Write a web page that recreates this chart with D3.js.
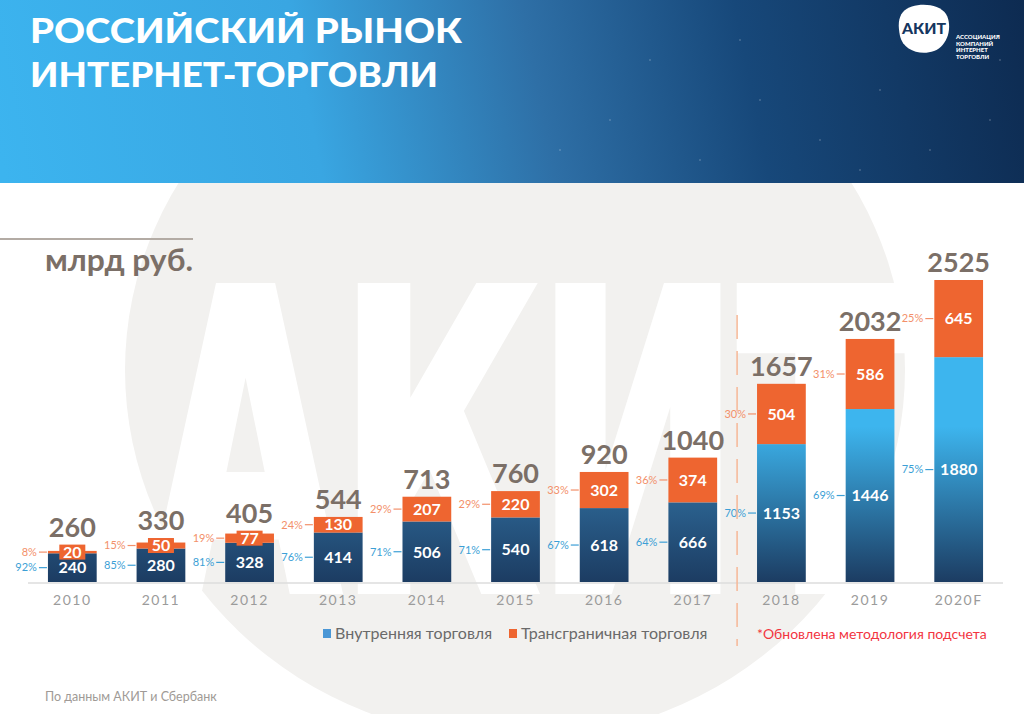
<!DOCTYPE html>
<html>
<head>
<meta charset="utf-8">
<script src="https://cdn.jsdelivr.net/npm/d3@7"></script>
<style>
  html, body { margin: 0; padding: 0; background: #fff; }
  svg { display: block; }
</style>
</head>
<body>
<div id="container"></div>
<script>
// chart data
var years = ["2010", "2011", "2012", "2013", "2014", "2015", "2016", "2017", "2018", "2019", "2020F"];
var domestic = [240, 280, 328, 414, 506, 540, 618, 666, 1153, 1446, 1880];
var crossBorder = [20, 50, 77, 130, 207, 220, 302, 374, 504, 586, 645];
var totals = [260, 330, 405, 544, 713, 760, 920, 1040, 1657, 2032, 2525];
var domesticPct = ["92%", "85%", "81%", "76%", "71%", "71%", "67%", "64%", "70%", "69%", "75%"];
var crossPct = ["8%", "15%", "19%", "24%", "29%", "29%", "33%", "36%", "30%", "31%", "25%"];
var newMethodFrom = "2018";
var legendLabels = ["Внутренняя торговля", "Трансграничная торговля"];

var width = 1024, height = 714;
var orange = "#ee6530";
var taupe = "#7b6f67";
var font = "Lato, 'Open Sans', sans-serif";

var svg = d3.select("#container").append("svg")
  .attr("width", width).attr("height", height);
var defs = svg.append("defs");

// header gradient
var hg = defs.append("linearGradient").attr("id", "hdr")
  .attr("gradientUnits", "userSpaceOnUse")
  .attr("x1", 0).attr("y1", 160).attr("x2", 1024).attr("y2", -40);
hg.append("stop").attr("offset", 0).attr("stop-color", "#3cb4ef");
hg.append("stop").attr("offset", 0.3).attr("stop-color", "#39a6e2");
hg.append("stop").attr("offset", 0.52).attr("stop-color", "#2e6fa6");
hg.append("stop").attr("offset", 0.72).attr("stop-color", "#17487a");
hg.append("stop").attr("offset", 1).attr("stop-color", "#0d2a50");

// watermark circle + letters
svg.append("ellipse").attr("cx", 515).attr("cy", 370).attr("rx", 390).attr("ry", 370)
  .attr("fill", "#f2f1ef");
svg.append("text").attr("x", 152).attr("y", 588)
  .attr("font-family", "'DejaVu Sans', sans-serif").attr("font-weight", 700).attr("font-size", 410)
  .attr("textLength", 752).attr("lengthAdjust", "spacingAndGlyphs")
  .attr("fill", "#fff").attr("stroke", "#fff").attr("stroke-width", 12)
  .attr("stroke-linejoin", "miter").text("АКИТ");

// header
svg.append("rect").attr("width", width).attr("height", 183).attr("fill", "url(#hdr)");
var starData = [[560, 150], [610, 120], [700, 160], [760, 100], [820, 140], [880, 90], [930, 150], [990, 120], [650, 60], [740, 40], [1000, 60], [860, 170]];
svg.selectAll("circle.star").data(starData).enter().append("circle")
  .attr("class", "star").attr("cx", d => d[0]).attr("cy", d => d[1]).attr("r", 0.8)
  .attr("fill", "#fff").attr("opacity", 0.35);

svg.append("text").attr("x", 30).attr("y", 43)
  .attr("font-family", font).attr("font-weight", 900).attr("font-size", 35)
  .attr("textLength", 432).attr("lengthAdjust", "spacingAndGlyphs")
  .attr("fill", "#fff").text("РОССИЙСКИЙ РЫНОК");
svg.append("text").attr("x", 30).attr("y", 87)
  .attr("font-family", font).attr("font-weight", 900).attr("font-size", 35)
  .attr("textLength", 408).attr("lengthAdjust", "spacingAndGlyphs")
  .attr("fill", "#fff").text("ИНТЕРНЕТ-ТОРГОВЛИ");

// logo
svg.append("path")
  .attr("d", "M903,12 C912,2 938,2 946,14 C953,26 948,46 934,51 C920,56 903,50 900,36 C898,26 898,18 903,12 Z")
  .attr("fill", "#fff");
svg.append("text").attr("x", 924).attr("y", 34).attr("text-anchor", "middle")
  .attr("font-family", font).attr("font-weight", 900).attr("font-size", 15)
  .attr("textLength", 44).attr("lengthAdjust", "spacingAndGlyphs")
  .attr("fill", "#15365f").text("АКИТ");
["АССОЦИАЦИЯ", "КОМПАНИЙ", "ИНТЕРНЕТ", "ТОРГОВЛИ"].forEach(function (t, i) {
  svg.append("text").attr("x", 956).attr("y", 39 + i * 6.5)
    .attr("font-family", font).attr("font-weight", 900).attr("font-size", 6)
    .attr("fill", "#fff").text(t);
});

// units label
svg.append("line").attr("x1", 0).attr("x2", 193).attr("y1", 239).attr("y2", 239)
  .attr("stroke", "#b3aba4").attr("stroke-width", 2);
svg.append("text").attr("x", 45).attr("y", 271)
  .attr("font-family", font).attr("font-weight", 700).attr("font-size", 30)
  .attr("textLength", 148).attr("lengthAdjust", "spacingAndGlyphs")
  .attr("fill", taupe).text("млрд руб.");

// scales
var x = d3.scaleBand().domain(years).range([28, 1003]).paddingInner(0.45).paddingOuter(0.225);
var y = d3.scaleLinear().domain([0, 2525]).range([582, 280]);

// bar gradients
var gOld = defs.append("linearGradient").attr("id", "gOld")
  .attr("gradientUnits", "userSpaceOnUse").attr("x1", 0).attr("x2", 0)
  .attr("y1", y(1100)).attr("y2", y(0));
gOld.append("stop").attr("offset", 0).attr("stop-color", "#3479ab");
gOld.append("stop").attr("offset", 1).attr("stop-color", "#1c3c62");
var gNew = defs.append("linearGradient").attr("id", "gNew")
  .attr("gradientUnits", "userSpaceOnUse").attr("x1", 0).attr("x2", 0)
  .attr("y1", y(1300)).attr("y2", y(0));
gNew.append("stop").attr("offset", 0).attr("stop-color", "#3db5ee");
gNew.append("stop").attr("offset", 1).attr("stop-color", "#1c3c62");

var rows = years.map(function (yr, i) {
  return { year: yr, dom: domestic[i], cross: crossBorder[i], total: totals[i],
    domPct: domesticPct[i], crossPct: crossPct[i], isNew: years.indexOf(yr) >= years.indexOf(newMethodFrom) };
});

// baseline
svg.append("line").attr("x1", 28).attr("x2", 1003).attr("y1", y(0) + 1).attr("y2", y(0) + 1)
  .attr("stroke", "#dcdcdc").attr("stroke-width", 1.5);

var bar = svg.selectAll("g.bar").data(rows).enter().append("g").attr("class", "bar");
var bw = x.bandwidth();

bar.append("rect")
  .attr("x", d => x(d.year)).attr("width", bw)
  .attr("y", d => y(d.dom)).attr("height", d => y(0) - y(d.dom))
  .attr("fill", d => d.isNew ? "url(#gNew)" : "url(#gOld)");
bar.append("rect")
  .attr("x", d => x(d.year)).attr("width", bw)
  .attr("y", d => y(d.total)).attr("height", d => y(d.dom) - y(d.total))
  .attr("fill", orange);

function crossMid(d) { return (y(d.dom) + y(d.total)) / 2; }
function domMid(d) { return (y(0) + y(d.dom)) / 2; }
function smallSeg(d) { return y(d.dom) - y(d.total) < 18; }

// label boxes for thin orange segments
bar.filter(smallSeg).append("rect")
  .attr("x", d => x(d.year) + bw / 2 - (String(d.cross).length * 9 + 8) / 2)
  .attr("width", d => String(d.cross).length * 9 + 8)
  .attr("y", d => crossMid(d) - 7.5).attr("height", 15)
  .attr("fill", orange);

bar.append("text")
  .attr("x", d => x(d.year) + bw / 2).attr("y", d => crossMid(d))
  .attr("dy", "0.36em").attr("text-anchor", "middle")
  .attr("font-family", font).attr("font-weight", 700).attr("font-size", 16)
  .attr("fill", "#fff").text(d => d.cross);
bar.append("text")
  .attr("x", d => x(d.year) + bw / 2).attr("y", d => domMid(d))
  .attr("dy", "0.36em").attr("text-anchor", "middle")
  .attr("font-family", font).attr("font-weight", 700).attr("font-size", 16)
  .attr("fill", "#fff").text(d => d.dom);

// totals
bar.append("text")
  .attr("x", d => x(d.year) + bw / 2)
  .attr("y", d => Math.min(y(d.total), smallSeg(d) ? crossMid(d) - 7.5 : y(d.total)) - 8)
  .attr("text-anchor", "middle")
  .attr("font-family", font).attr("font-weight", 700).attr("font-size", 27)
  .attr("fill", taupe).text(d => d.total);

// percentage callouts
var blueTxt = "#3c9fd6", orangeTxt = "#f3906a";
function callout(sel, yf, txt, col) {
  sel.append("line")
    .attr("x1", d => x(d.year) - 9).attr("x2", d => x(d.year) - 1)
    .attr("y1", yf).attr("y2", yf)
    .attr("stroke", col).attr("stroke-width", 1.2);
  sel.append("text")
    .attr("x", d => x(d.year) - 11).attr("y", yf).attr("dy", "0.35em")
    .attr("text-anchor", "end")
    .attr("font-family", font).attr("font-size", 11)
    .attr("fill", col).text(txt);
}
callout(bar, crossMid, d => d.crossPct, orangeTxt);
callout(bar, domMid, d => d.domPct, blueTxt);

// year axis
var xAxis = svg.append("g").attr("transform", "translate(0," + (y(0) + 1) + ")")
  .call(d3.axisBottom(x).tickSize(0).tickPadding(12));
xAxis.select(".domain").remove();
xAxis.selectAll("text")
  .attr("font-family", font).attr("font-size", 14).attr("letter-spacing", 1.5)
  .attr("fill", "#9b9b9b");

// methodology divider
var divX = x(newMethodFrom) - (x.step() - bw) / 2;
svg.append("line").attr("x1", divX).attr("x2", divX).attr("y1", 315).attr("y2", 646)
  .attr("stroke", "#f6b796").attr("stroke-width", 1.5).attr("stroke-dasharray", "24,12");

// legend
var legCol = ["#4a97d6", orange];
var legX = [323, 509];
legendLabels.forEach(function (t, i) {
  svg.append("rect").attr("x", legX[i]).attr("y", 629).attr("width", 8).attr("height", 9)
    .attr("fill", legCol[i]);
  svg.append("text").attr("x", legX[i] + 12).attr("y", 639)
    .attr("font-family", font).attr("font-size", 16)
    .attr("fill", "#6a6a6a").text(t);
});
svg.append("text").attr("x", 757).attr("y", 639)
  .attr("font-family", font).attr("font-size", 14)
  .attr("fill", "#f2353f").text("*Обновлена методология подсчета");

// source
svg.append("text").attr("x", 45).attr("y", 701)
  .attr("font-family", font).attr("font-size", 12.5)
  .attr("fill", "#a09a96").text("По данным АКИТ и Сбербанк");
</script>
</body>
</html>
